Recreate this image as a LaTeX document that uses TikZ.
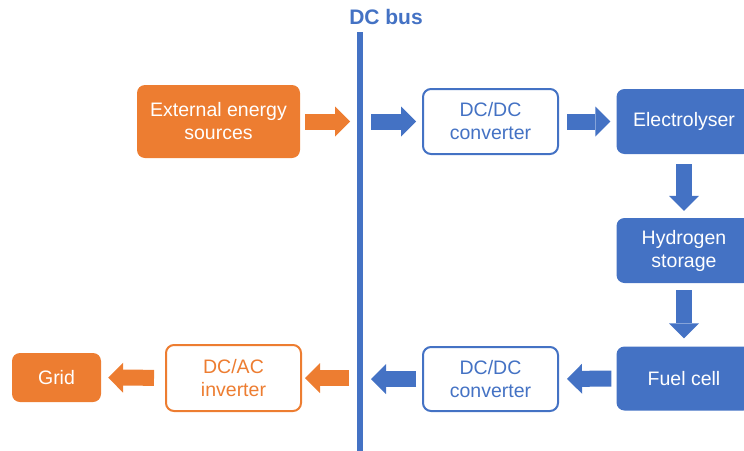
\documentclass[tikz,border=0pt]{standalone}
\usepackage{fontspec}
\setmainfont{Liberation Sans}
\usetikzlibrary{arrows.meta}
\definecolor{busblue}{HTML}{4472C4}
\definecolor{srcorange}{HTML}{ED7D31}
\tikzset{
        unit/.style={rounded corners=8pt, align=center, inner sep=0pt,
                font=\fontsize{19.5}{23}\selectfont},
        solidunit/.style={unit, fill=#1, text=white},
        hollowunit/.style={unit, draw=#1, line width=2pt, fill=white, text=#1},
        flow/.style={draw=#1, line width=16pt,
                -{Triangle[width=30pt 0 0, length=15pt 0 0, line width=0pt 0 0, fill=#1]}},
}

\begin{document}
\begin{tikzpicture}[x=1pt,y=-1pt]
        \useasboundingbox (0,0) rectangle (744,450);
        % DC bus
        \coordinate (bustop) at (360,32);
        \coordinate (busbot) at (360,452);
        \draw[busblue, line width=5.5pt] (bustop) -- (busbot);
        \node[text=busblue, font=\fontsize{21}{24}\bfseries] (busname) at (386,17) {DC bus};
        % upper row
        \node[solidunit=srcorange, minimum width=163pt, minimum height=73pt] (ext) at (218.5,121.5) {External energy\\sources};
        \node[hollowunit=busblue, minimum width=135pt, minimum height=65pt] (dcdcin) at (490.5,121.5) {DC/DC\\converter};
        \node[solidunit=busblue, minimum width=135pt, minimum height=65pt] (elec) at (684,121.5) {Electrolyser};
        % right column
        \node[solidunit=busblue, minimum width=135pt, minimum height=65pt] (htwo) at (684,250.5) {Hydrogen\\storage};
        \node[solidunit=busblue, minimum width=135pt, minimum height=64pt] (fcell) at (684,378.5) {Fuel cell};
        % lower row
        \node[hollowunit=busblue, minimum width=135pt, minimum height=64pt] (dcdcout) at (490.5,379) {DC/DC\\converter};
        \node[hollowunit=srcorange, minimum width=135pt, minimum height=66pt] (inv) at (233.5,378) {DC/AC\\inverter};
        \node[solidunit=srcorange, minimum width=89pt, minimum height=49pt] (grid) at (56.5,377.5) {Grid};
        % arrows
        \draw[flow=srcorange, shorten <=5pt, shorten >=10pt] (ext) -- (ext -| bustop);
        \draw[flow=busblue, shorten <=11pt, shorten >=6pt] (dcdcin -| bustop) -- (dcdcin);
        \draw[flow=busblue, shorten <=8pt, shorten >=6pt] (dcdcin) -- (elec);
        \draw[flow=busblue, shorten <=10pt, shorten >=7pt] (elec) -- (htwo);
        \draw[flow=busblue, shorten <=7pt, shorten >=8pt] (htwo) -- (fcell);
        \draw[flow=busblue, shorten <=5pt, shorten >=8pt] (fcell) -- (dcdcout);
        \draw[flow=busblue, shorten <=6pt, shorten >=11pt] (dcdcout) -- (dcdcout -| bustop);
        \draw[flow=srcorange, shorten <=11pt, shorten >=3pt] (inv -| bustop) -- (inv);
        \draw[flow=srcorange, shorten <=11pt, shorten >=7pt] (inv) -- (grid);
\end{tikzpicture}
\end{document}
